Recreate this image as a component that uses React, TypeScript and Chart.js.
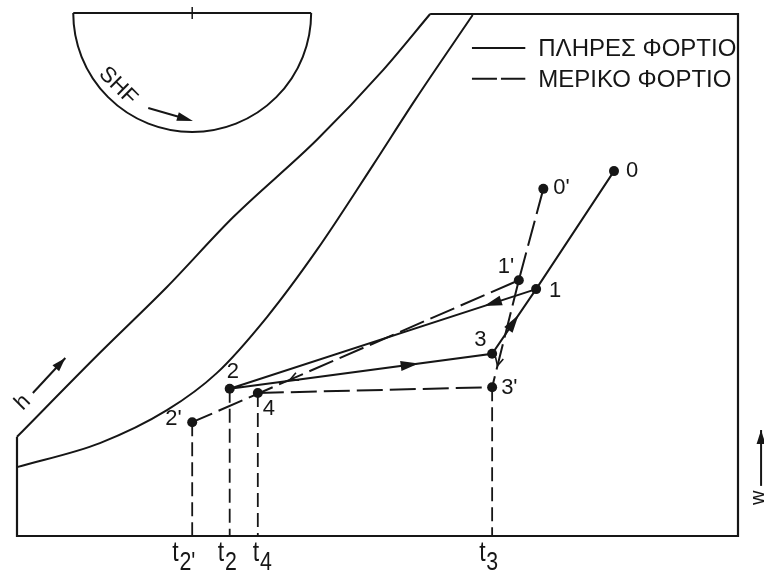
import React, { useEffect, useRef } from "react";
import { Chart, registerables } from "chart.js";

Chart.register(...registerables);

// Abstract axis ranges: dry-bulb temperature (x) and humidity ratio w (y)
const X_MIN = 0;
const X_MAX = 100;
const Y_MIN = 0;
const Y_MAX = 100;

// Chart outline (left edge, base, right edge, top edge)
const frameX = [0, 0, 100, 100, 57.3];
const frameY = [19.0, 0, 0, 100, 100];

// Upper boundary (enthalpy scale edge)
const upperCurveX = [0, 11.5, 20.8, 30.0, 41.6, 50.8, 57.3];
const upperCurveY = [19.0, 35.1, 47.7, 61.1, 75.9, 89.3, 100];

// Saturation curve
const satCurveX = [0, 11.5, 20.8, 27.7, 34.7, 41.6, 49.4, 55.2, 63.2];
const satCurveY = [13.2, 17.8, 24.1, 31.2, 42.0, 54.8, 71.1, 83.5, 99.8];

// State points
const stateNames = ["0", "1", "2", "3", "0'", "1'", "2'", "3'", "4"];
const stateX = [82.8, 72.0, 29.5, 65.9, 73.0, 69.6, 24.3, 65.9, 33.4];
const stateY = [69.9, 47.3, 28.2, 34.9, 66.5, 49.0, 21.8, 28.5, 27.4];

// Process paths (indices into the state arrays)
const fullLoadPath = [0, 1, 3, 2, 1];
const partialLoadPaths = [
  [4, 5, 6],
  [5, 7],
  [8, 7],
];
// [from, to, fraction along segment]
const fullLoadArrows = [
  [2, 3, 0.72],
  [1, 2, 0.17],
  [3, 1, 0.6],
];
const partialLoadChevrons = [
  [5, 7, 0.8],
  [5, 6, 0.7],
];

// Temperature markers on the x axis
const tickStates = [6, 2, 8, 7];
const tickSubs = ["2'", "2", "4", "3"];

const legendLabels = ["ΠΛΗΡΕΣ ΦΟΡΤΙΟ", "ΜΕΡΙΚΟ ΦΟΡΤΙΟ"];
const shfLabel = "SHF";
const hLabel = "h";
const wLabel = "w";

// Protractor (sensible heat factor) centre and radius in data units
const protractorCX = 24.3;
const protractorCY = 100;
const protractorR = 16.5;

// ---- styles / label placements (pixels) ----
const INK = "#161616";
const FONT = '"Liberation Sans", Arial, Helvetica, sans-serif';
const labelOffsets = [
  [12, 0],
  [13, 2],
  [-3, -17],
  [-18, -14],
  [10, -1],
  [-21, -13],
  [-27, -3],
  [9, 1],
  [5, 16],
];
const tickLabelDx = [-20, -12, -5, -13];

function arrowHead(
  ctx: CanvasRenderingContext2D,
  x: number,
  y: number,
  ang: number,
  len: number,
  hw: number,
  filled: boolean
) {
  ctx.save();
  ctx.translate(x, y);
  ctx.rotate(ang);
  ctx.beginPath();
  if (filled) {
    ctx.moveTo(0, 0);
    ctx.lineTo(-len, -hw);
    ctx.lineTo(-len, hw);
    ctx.closePath();
    ctx.fill();
  } else {
    ctx.moveTo(-len, -hw);
    ctx.lineTo(0, 0);
    ctx.lineTo(-len, hw);
    ctx.stroke();
  }
  ctx.restore();
}

const overlay = {
  id: "overlay",
  afterDatasetsDraw(chart: any) {
    const ctx: CanvasRenderingContext2D = chart.ctx;
    const xs = chart.scales.x;
    const ys = chart.scales.y;
    const X = (v: number) => xs.getPixelForValue(v);
    const Y = (v: number) => ys.getPixelForValue(v);
    ctx.save();
    ctx.fillStyle = INK;
    ctx.strokeStyle = INK;
    ctx.lineWidth = 2;
    ctx.setLineDash([]);

    // Protractor
    const cx = X(protractorCX);
    const cy = Y(protractorCY) - 1;
    const r = X(protractorCX + protractorR) - cx;
    ctx.beginPath();
    ctx.moveTo(cx - r, cy);
    ctx.lineTo(cx + r, cy);
    ctx.stroke();
    ctx.beginPath();
    ctx.arc(cx, cy, r, 0, Math.PI);
    ctx.stroke();
    ctx.lineWidth = 1.5;
    ctx.beginPath();
    ctx.moveTo(cx, cy + 6);
    ctx.lineTo(cx, cy - 6);
    ctx.stroke();

    // SHF label and arrow
    ctx.save();
    ctx.translate(X(14.0), Y(86.2));
    ctx.rotate(Math.PI / 4);
    ctx.font = `22px ${FONT}`;
    ctx.textAlign = "center";
    ctx.textBaseline = "middle";
    ctx.fillText(shfLabel, 0, 0);
    ctx.restore();
    {
      const x1 = X(18.2), y1 = Y(82.0), x2 = X(24.4), y2 = Y(79.5);
      ctx.lineWidth = 2;
      ctx.beginPath();
      ctx.moveTo(x1, y1);
      ctx.lineTo(x2 - 10, y2 - 3);
      ctx.stroke();
      arrowHead(ctx, x2, y2, Math.atan2(y2 - y1, x2 - x1), 16, 4.5, true);
    }

    // h label and arrow
    ctx.save();
    ctx.translate(X(0.8), Y(25.6));
    ctx.rotate(-Math.PI / 4);
    ctx.font = `22px ${FONT}`;
    ctx.textAlign = "center";
    ctx.textBaseline = "middle";
    ctx.fillText(hLabel, 0, 0);
    ctx.restore();
    {
      const x1 = X(2.2), y1 = Y(27.4), x2 = X(6.7), y2 = Y(34.1);
      ctx.lineWidth = 2;
      ctx.beginPath();
      ctx.moveTo(x1, y1);
      ctx.lineTo(x2, y2);
      ctx.stroke();
      arrowHead(ctx, x2, y2, Math.atan2(y2 - y1, x2 - x1), 14, 4.5, true);
    }

    // w label and arrow (right side)
    ctx.save();
    ctx.translate(X(102.9), Y(7.3));
    ctx.rotate(-Math.PI / 2);
    ctx.font = `20px ${FONT}`;
    ctx.textAlign = "center";
    ctx.textBaseline = "middle";
    ctx.fillText(wLabel, 0, 0);
    ctx.restore();
    {
      const x1 = X(103.2), y1 = Y(9.6), y2 = Y(20.3);
      ctx.lineWidth = 2;
      ctx.beginPath();
      ctx.moveTo(x1, y1);
      ctx.lineTo(x1, y2);
      ctx.stroke();
      arrowHead(ctx, x1, y2, -Math.PI / 2, 14, 4.5, true);
    }

    // Process arrows
    const P = (i: number) => [X(stateX[i]), Y(stateY[i])];
    fullLoadArrows.forEach(([a, b, t]) => {
      const [x1, y1] = P(a);
      const [x2, y2] = P(b);
      const tx = x1 + (x2 - x1) * t;
      const ty = y1 + (y2 - y1) * t;
      arrowHead(ctx, tx, ty, Math.atan2(y2 - y1, x2 - x1), 18, 5, true);
    });
    ctx.lineWidth = 1.6;
    partialLoadChevrons.forEach(([a, b, t]) => {
      const [x1, y1] = P(a);
      const [x2, y2] = P(b);
      const tx = x1 + (x2 - x1) * t;
      const ty = y1 + (y2 - y1) * t;
      arrowHead(ctx, tx, ty, Math.atan2(y2 - y1, x2 - x1), 8, 4, false);
    });

    // State labels
    ctx.font = `22px ${FONT}`;
    ctx.textAlign = "left";
    ctx.textBaseline = "middle";
    stateNames.forEach((name, i) => {
      const [px, py] = P(i);
      ctx.fillText(name, px + labelOffsets[i][0], py + labelOffsets[i][1]);
    });

    // Temperature tick labels (t with subscript)
    const base = chart.chartArea.bottom;
    tickStates.forEach((si, k) => {
      const px = X(stateX[si]) + tickLabelDx[k];
      ctx.save();
      ctx.translate(px, base);
      ctx.scale(0.82, 1);
      ctx.textAlign = "left";
      ctx.textBaseline = "alphabetic";
      ctx.font = `28px ${FONT}`;
      ctx.fillText("t", 0, 25);
      const tw = ctx.measureText("t").width;
      ctx.font = `26px ${FONT}`;
      ctx.fillText(tickSubs[k], tw + 1, 34);
      ctx.restore();
    });

    // Legend
    const lx1 = X(63.1), lx2 = X(70.5), tx = X(72.3);
    const ly = [Y(93.5), Y(87.6)];
    ctx.lineWidth = 2;
    ctx.beginPath();
    ctx.moveTo(lx1, ly[0]);
    ctx.lineTo(lx2, ly[0]);
    ctx.stroke();
    ctx.setLineDash([25, 4]);
    ctx.beginPath();
    ctx.moveTo(lx1, ly[1]);
    ctx.lineTo(lx2, ly[1]);
    ctx.stroke();
    ctx.setLineDash([]);
    ctx.font = `24px ${FONT}`;
    ctx.textBaseline = "alphabetic";
    legendLabels.forEach((lab, i) => {
      ctx.fillText(lab, tx, ly[i] + 8);
    });

    ctx.restore();
  },
};

export default function App() {
  const ref = useRef<HTMLCanvasElement>(null);
  useEffect(() => {
    const canvas = ref.current;
    if (!canvas) return;
    const pt = (i: number) => ({ x: stateX[i], y: stateY[i] });
    const line = (data: any[], extra: any = {}) => ({
      type: "scatter",
      data,
      showLine: true,
      borderColor: INK,
      backgroundColor: INK,
      borderWidth: 2,
      pointRadius: 0,
      pointHoverRadius: 0,
      fill: false,
      clip: false,
      ...extra,
    });
    const datasets: any[] = [
      line(frameX.map((x, i) => ({ x, y: frameY[i] })), { borderWidth: 2.2 }),
      line(upperCurveX.map((x, i) => ({ x, y: upperCurveY[i] })), {
        cubicInterpolationMode: "monotone",
      }),
      line(satCurveX.map((x, i) => ({ x, y: satCurveY[i] })), {
        cubicInterpolationMode: "monotone",
      }),
      line(fullLoadPath.map(pt)),
      ...partialLoadPaths.map((p) => line(p.map(pt), { borderDash: [26, 7] })),
      ...tickStates.map((i) =>
        line([pt(i), { x: stateX[i], y: Y_MIN }], { borderDash: [14, 6], borderWidth: 1.8 })
      ),
      {
        type: "scatter",
        data: stateX.map((x, i) => ({ x, y: stateY[i] })),
        showLine: false,
        pointRadius: 5,
        pointHoverRadius: 5,
        pointBackgroundColor: INK,
        pointBorderColor: INK,
        pointBorderWidth: 0,
        clip: false,
      },
    ];
    const chart = new Chart(canvas, {
      type: "scatter",
      data: { datasets },
      options: {
        animation: false,
        responsive: false,
        devicePixelRatio: 1,
        layout: { padding: { left: 17, right: 26, top: 14, bottom: 34 } },
        scales: {
          x: { type: "linear", min: X_MIN, max: X_MAX, display: false },
          y: { type: "linear", min: Y_MIN, max: Y_MAX, display: false },
        },
        plugins: { legend: { display: false }, tooltip: { enabled: false } },
        events: [],
      },
      plugins: [overlay],
    } as any);
    return () => chart.destroy();
  }, []);
  return (
    <div style={{ position: "fixed", left: 0, top: 0, width: 764, height: 570, background: "#fff" }}>
      <canvas ref={ref} width={764} height={570} style={{ display: "block", width: 764, height: 570 }} />
    </div>
  );
}
